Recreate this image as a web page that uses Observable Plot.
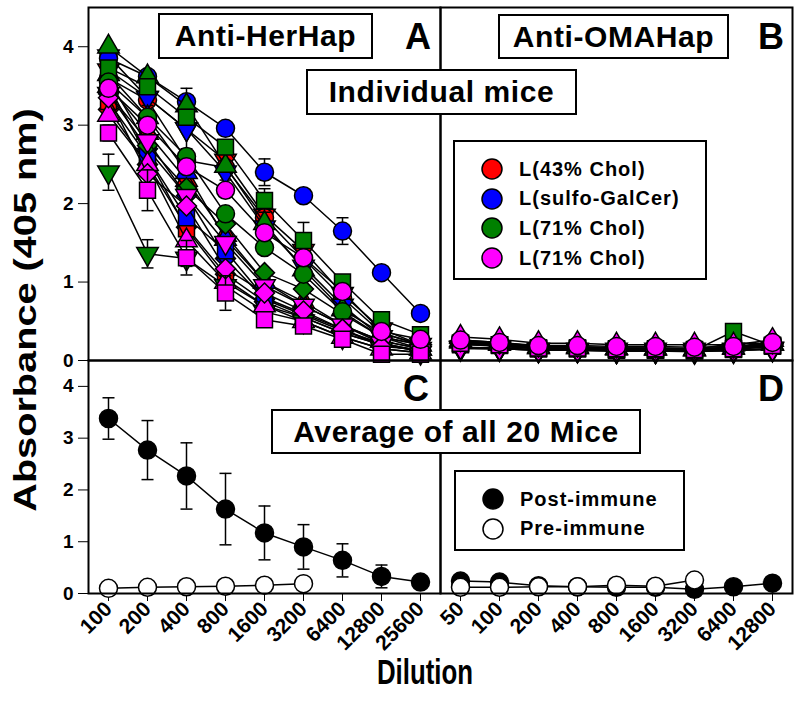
<!DOCTYPE html>
<html>
<head>
<meta charset="utf-8">
<script src="https://cdn.jsdelivr.net/npm/d3@7"></script>
<script src="https://cdn.jsdelivr.net/npm/@observablehq/plot@0.6"></script>
<style>
  body { margin: 0; background: #fff; }
  #chart { position: relative; width: 800px; height: 713px; font-family: "Liberation Sans", Arial, sans-serif; font-weight: bold; color: #000; overflow: hidden; }
  .pl { position: absolute; }
  .bottom svg g[aria-label^="x-axis"] { font-size: 21px; }
  .box { position: absolute; border: 2px solid #000; background: #fff; box-sizing: border-box; display: flex; align-items: center; justify-content: center; font-size: 30px; letter-spacing: 0.6px; white-space: nowrap; }
  .letter { position: absolute; font-size: 36px; line-height: 1; }
  .legend { position: absolute; border: 2px solid #000; background: #fff; box-sizing: border-box; }
  .entry { position: absolute; left: 0; display: flex; align-items: center; font-size: 20px; letter-spacing: 1px; white-space: nowrap; }
  .entry svg { margin-left: 26px; margin-right: 16px; overflow: visible; }
  .ytitle { position: absolute; left: 26px; top: 310px; transform: translate(-50%, -50%) rotate(-90deg) scaleX(1.28); font-size: 31px; white-space: nowrap; }
  .xtitle { position: absolute; left: 425px; top: 672px; transform: translate(-50%, -50%) scale(0.76, 1.05); font-size: 34px; white-space: nowrap; }
</style>
</head>
<body>
<div id="chart"></div>
<script>
// ---------- Data ----------
const dilA = [100, 200, 400, 800, 1600, 3200, 6400, 12800, 25600];
const dilB = [50, 100, 200, 400, 800, 1600, 3200, 6400, 12800];
const groupNames = ["L(43% Chol)", "L(sulfo-GalCer)", "L(71% Chol)", "L(71% Chol)"];
const groupColors = ["#ff0000", "#0000ff", "#008000", "#ff00ff"];
const shapeNames = ["triangleDown", "triangle", "diamond", "square", "circle"];
const yTicks = [0, 1, 2, 3, 4];

// Panel A: Anti-HerHap, individual mice (rows follow shapeNames order)
const aRed = [
  [3.70, 3.35, 2.95, 2.55, 1.85, 1.40, 0.85, 0.40, 0.20],
  [3.50, 2.90, 2.30, 1.60, 1.00, 0.75, 0.45, 0.25, 0.15],
  [3.20, 2.50, 1.70, 1.10, 0.75, 0.55, 0.35, 0.20, 0.12],
  [3.30, 2.60, 1.68, 1.04, 0.70, 0.55, 0.35, 0.20, 0.12],
  [3.60, 3.32, 2.55, 2.46, 1.82, 1.30, 0.80, 0.35, 0.20]
];
const aBlue = [
  [3.88, 3.35, 2.95, 2.40, 1.70, 1.20, 0.70, 0.30, 0.15],
  [3.65, 3.10, 2.40, 1.55, 1.00, 0.70, 0.45, 0.25, 0.15],
  [3.40, 2.70, 2.10, 1.30, 0.78, 0.58, 0.38, 0.22, 0.12],
  [3.50, 2.60, 1.82, 1.40, 0.80, 0.60, 0.40, 0.20, 0.12],
  [3.85, 3.62, 3.30, 2.96, 2.40, 2.10, 1.65, 1.12, 0.60]
];
const aGreen = [
  [2.40, 1.36, 1.30, 0.95, 0.62, 0.50, 0.30, 0.15, 0.10],
  [4.00, 3.62, 3.25, 2.48, 1.75, 1.16, 0.65, 0.35, 0.20],
  [3.58, 2.74, 2.20, 1.74, 1.12, 0.91, 0.59, 0.30, 0.20],
  [3.73, 3.49, 3.10, 2.72, 2.04, 1.53, 1.00, 0.52, 0.33],
  [3.55, 3.10, 2.60, 1.87, 1.44, 1.10, 0.62, 0.30, 0.20]
];
const aMagenta = [
  [3.40, 2.80, 2.10, 1.50, 0.95, 0.70, 0.45, 0.22, 0.12],
  [3.13, 2.50, 1.53, 1.00, 0.70, 0.50, 0.30, 0.15, 0.10],
  [3.35, 2.38, 1.97, 1.17, 0.86, 0.63, 0.40, 0.18, 0.14],
  [2.90, 2.17, 1.31, 0.86, 0.52, 0.44, 0.27, 0.08, 0.08],
  [3.47, 3.00, 2.47, 2.17, 1.63, 1.31, 0.88, 0.37, 0.27]
];
// visible error bars in panel A: [group index, shape index, SD per dilution]
const errBlueCircle   = [0.05, 0.05, 0.17, 0.05, 0.17, 0.05, 0.17, 0.05, 0.05];
const errBlueTriDown  = [0.05, 0.10, 0.25, 0.10, 0.05, 0.05, 0.05, 0.05, 0.05];
const errGreenTriDown = [0.23, 0.18, 0.10, 0.08, 0.05, 0.05, 0.05, 0.05, 0.05];
const errGreenSquare  = [0.05, 0.05, 0.10, 0.05, 0.15, 0.23, 0.05, 0.05, 0.05];
const errMagSquare    = [0.10, 0.26, 0.22, 0.22, 0.08, 0.05, 0.05, 0.05, 0.05];
const errorSeries = [[1, 4, errBlueCircle], [1, 0, errBlueTriDown], [2, 0, errGreenTriDown], [2, 3, errGreenSquare], [3, 3, errMagSquare]];

// Panel B: Anti-OMAHap, individual mice
const bRed = [
  [0.15, 0.15, 0.13, 0.13, 0.12, 0.12, 0.12, 0.12, 0.15],
  [0.24, 0.21, 0.17, 0.17, 0.15, 0.15, 0.14, 0.16, 0.21],
  [0.21, 0.18, 0.15, 0.15, 0.13, 0.13, 0.12, 0.14, 0.19],
  [0.20, 0.19, 0.15, 0.15, 0.13, 0.13, 0.12, 0.14, 0.18],
  [0.22, 0.20, 0.16, 0.16, 0.14, 0.14, 0.13, 0.15, 0.20]
];
const bBlue = [
  [0.16, 0.15, 0.13, 0.13, 0.12, 0.12, 0.11, 0.13, 0.15],
  [0.26, 0.23, 0.18, 0.18, 0.16, 0.16, 0.15, 0.17, 0.22],
  [0.23, 0.20, 0.16, 0.15, 0.14, 0.13, 0.13, 0.14, 0.20],
  [0.21, 0.20, 0.15, 0.15, 0.14, 0.13, 0.13, 0.15, 0.19],
  [0.25, 0.22, 0.17, 0.17, 0.15, 0.15, 0.14, 0.16, 0.21]
];
const bGreen = [
  [0.16, 0.15, 0.13, 0.13, 0.12, 0.12, 0.12, 0.13, 0.14],
  [0.25, 0.22, 0.17, 0.17, 0.16, 0.15, 0.14, 0.22, 0.21],
  [0.24, 0.21, 0.16, 0.16, 0.15, 0.14, 0.13, 0.18, 0.20],
  [0.22, 0.20, 0.16, 0.16, 0.14, 0.14, 0.13, 0.37, 0.19],
  [0.23, 0.21, 0.16, 0.16, 0.14, 0.14, 0.13, 0.16, 0.20]
];
const bMagenta = [
  [0.17, 0.16, 0.14, 0.14, 0.14, 0.14, 0.14, 0.14, 0.15],
  [0.30, 0.27, 0.22, 0.22, 0.20, 0.20, 0.20, 0.20, 0.26],
  [0.24, 0.21, 0.17, 0.17, 0.16, 0.16, 0.15, 0.16, 0.21],
  [0.22, 0.20, 0.16, 0.16, 0.15, 0.15, 0.14, 0.15, 0.19],
  [0.26, 0.23, 0.19, 0.19, 0.18, 0.18, 0.17, 0.18, 0.23]
];

// Panel C: average of all 20 mice, Anti-HerHap
const cPost    = [3.38, 2.77, 2.27, 1.63, 1.17, 0.90, 0.64, 0.33, 0.22];
const cPostErr = [0.40, 0.57, 0.64, 0.69, 0.52, 0.43, 0.32, 0.22, 0.00];
const cPre     = [0.10, 0.12, 0.13, 0.14, 0.16, 0.19];
// Panel D: average of all 20 mice, Anti-OMAHap
const dPost    = [0.24, 0.22, 0.15, 0.13, 0.12, 0.12, 0.08, 0.13, 0.20];
const dPostErr = [0.04, 0.04, 0.03, 0.03, 0.06, 0.03, 0.10, 0.03, 0.08];
const dPre     = [0.12, 0.12, 0.13, 0.13, 0.16, 0.14, 0.26];

const legendAverage = ["Post-immune", "Pre-immune"];

// ---------- Symbols ----------
const triDown = {
  draw(ctx, size) {
    const y = -Math.sqrt(size / (Math.sqrt(3) * 3));
    ctx.moveTo(0, -y * 2);
    ctx.lineTo(-Math.sqrt(3) * y, y);
    ctx.lineTo(Math.sqrt(3) * y, y);
    ctx.closePath();
  }
};
const capSym = { draw(ctx) { ctx.moveTo(-6, 0); ctx.lineTo(6, 0); } };
const symbolFor = {triangleDown: triDown, triangle: "triangle", diamond: "diamond2", square: "square", circle: "circle"};
const radiusFor = {triangleDown: 8, triangle: 8, diamond: 9, square: 9, circle: 9};

const baseStyle = {background: "transparent", overflow: "visible", fontFamily: "'Liberation Sans', Arial, sans-serif", fontSize: "19px", fontWeight: "bold", color: "black"};

function seriesMarks(xs, ys, errs, fill, shape) {
  const data = xs.map((x, i) => ({x, y: ys[i], e: errs ? errs[i] : 0})).filter(d => d.y != null);
  const out = [Plot.line(data, {x: "x", y: "y", stroke: "black", strokeWidth: 1.5})];
  const ed = data.filter(d => d.e > 0);
  if (ed.length) {
    out.push(Plot.ruleX(ed, {x: "x", y1: d => d.y - d.e, y2: d => d.y + d.e, stroke: "black", strokeWidth: 1.5}));
    const caps = ed.flatMap(d => [{x: d.x, y: d.y - d.e}, {x: d.x, y: d.y + d.e}]);
    out.push(Plot.dot(caps, {x: "x", y: "y", symbol: capSym, r: 5, fill: "none", stroke: "black", strokeWidth: 1.5}));
  }
  out.push(Plot.dot(data, {x: "x", y: "y", r: radiusFor[shape], symbol: symbolFor[shape], fill, stroke: "black", strokeWidth: 1.5}));
  return out;
}

function individualMarks(xs, groups, withErr) {
  const marks = [];
  groups.forEach((rows, g) => {
    rows.forEach((ys, s) => {
      let errs = null;
      if (withErr) {
        const hit = errorSeries.find(e => e[0] === g && e[1] === s);
        if (hit) errs = hit[2];
      }
      marks.push(...seriesMarks(xs, ys, errs, groupColors[g], shapeNames[s]));
    });
  });
  return marks;
}

const chart = document.getElementById("chart");
function place(svg, left, top, cls) {
  const w = document.createElement("div");
  w.className = "pl" + (cls ? " " + cls : "");
  w.style.left = left + "px";
  w.style.top = top + "px";
  w.appendChild(svg);
  chart.appendChild(w);
}

const yTop = {domain: [0, 4.5], ticks: yTicks, tickSize: 10, tickPadding: 5, label: null, tickFormat: d => String(d)};
const yNone = {domain: [0, 4.5], axis: null};

// Panel A
place(Plot.plot({
  width: 440, height: 360, marginLeft: 88, marginRight: 0, marginTop: 7, marginBottom: 0,
  style: baseStyle,
  x: {type: "point", domain: dilA, padding: 0.5, axis: null},
  y: yTop,
  marks: [...individualMarks(dilA, [aRed, aBlue, aGreen, aMagenta], true), Plot.frame({stroke: "black", strokeWidth: 2})]
}), 0, 0);

// Panel B
place(Plot.plot({
  width: 360, height: 360, marginLeft: 0, marginRight: 8, marginTop: 7, marginBottom: 0,
  style: baseStyle,
  x: {type: "point", domain: dilB, padding: 0.5, axis: null},
  y: yNone,
  marks: [...individualMarks(dilB, [bRed, bBlue, bGreen, bMagenta], false), Plot.frame({stroke: "black", strokeWidth: 2})]
}), 440, 0);

const xBottom = (dom) => ({type: "point", domain: dom, padding: 0.5, tickRotate: -45, tickSize: 8, tickPadding: 4, label: null, tickFormat: d => String(d)});

// Panel C
place(Plot.plot({
  width: 440, height: 353, marginLeft: 88, marginRight: 0, marginTop: 0, marginBottom: 120,
  style: baseStyle,
  x: xBottom(dilA),
  y: yTop,
  marks: [
    ...seriesMarks(dilA, cPost, cPostErr, "black", "circle"),
    ...seriesMarks(dilA.slice(0, cPre.length), cPre, null, "white", "circle"),
    Plot.frame({stroke: "black", strokeWidth: 2})
  ]
}), 0, 360, "bottom");

// Panel D
place(Plot.plot({
  width: 360, height: 353, marginLeft: 0, marginRight: 8, marginTop: 0, marginBottom: 120,
  style: baseStyle,
  x: xBottom(dilB),
  y: yNone,
  marks: [
    ...seriesMarks(dilB, dPost, dPostErr, "black", "circle"),
    ...seriesMarks(dilB.slice(0, dPre.length), dPre, null, "white", "circle"),
    Plot.frame({stroke: "black", strokeWidth: 2})
  ]
}), 440, 360, "bottom");

// ---------- Annotations ----------
function addDiv(cls, text, css) {
  const d = document.createElement("div");
  d.className = cls;
  d.textContent = text;
  Object.assign(d.style, css);
  chart.appendChild(d);
  return d;
}
addDiv("box", "Anti-HerHap", {left: "158px", top: "13px", width: "215px", height: "46px"});
addDiv("box", "Anti-OMAHap", {left: "498px", top: "14px", width: "231px", height: "45px"});
addDiv("box", "Individual mice", {left: "306px", top: "69px", width: "271px", height: "46px"});
addDiv("box", "Average of all 20 Mice", {left: "271px", top: "409px", width: "370px", height: "45px"});
addDiv("letter", "A", {left: "405px", top: "19px"});
addDiv("letter", "B", {left: "758px", top: "19px"});
addDiv("letter", "C", {left: "403px", top: "371px"});
addDiv("letter", "D", {left: "758px", top: "371px"});
addDiv("ytitle", "Absorbance (405 nm)", {});
addDiv("xtitle", "Dilution", {});

function legend(left, top, width, height, items) {
  const box = document.createElement("div");
  box.className = "legend";
  Object.assign(box.style, {left: left + "px", top: top + "px", width: width + "px", height: height + "px"});
  items.forEach((it, i) => {
    const e = document.createElement("div");
    e.className = "entry";
    e.style.top = (27 + i * 29.7 - 12) + "px";
    e.style.height = "24px";
    e.innerHTML = `<svg width="22" height="22" viewBox="-11 -11 22 22"><circle r="10" fill="${it.fill}" stroke="black" stroke-width="1.5"/></svg>`;
    const t = document.createElement("span");
    t.textContent = it.label;
    e.appendChild(t);
    box.appendChild(e);
  });
  chart.appendChild(box);
}
legend(453, 140, 254, 140, groupNames.map((n, i) => ({label: n, fill: groupColors[i]})));
legend(454, 470, 231, 81, legendAverage.map((n, i) => ({label: n, fill: i === 0 ? "black" : "white"})));
</script>
</body>
</html>
